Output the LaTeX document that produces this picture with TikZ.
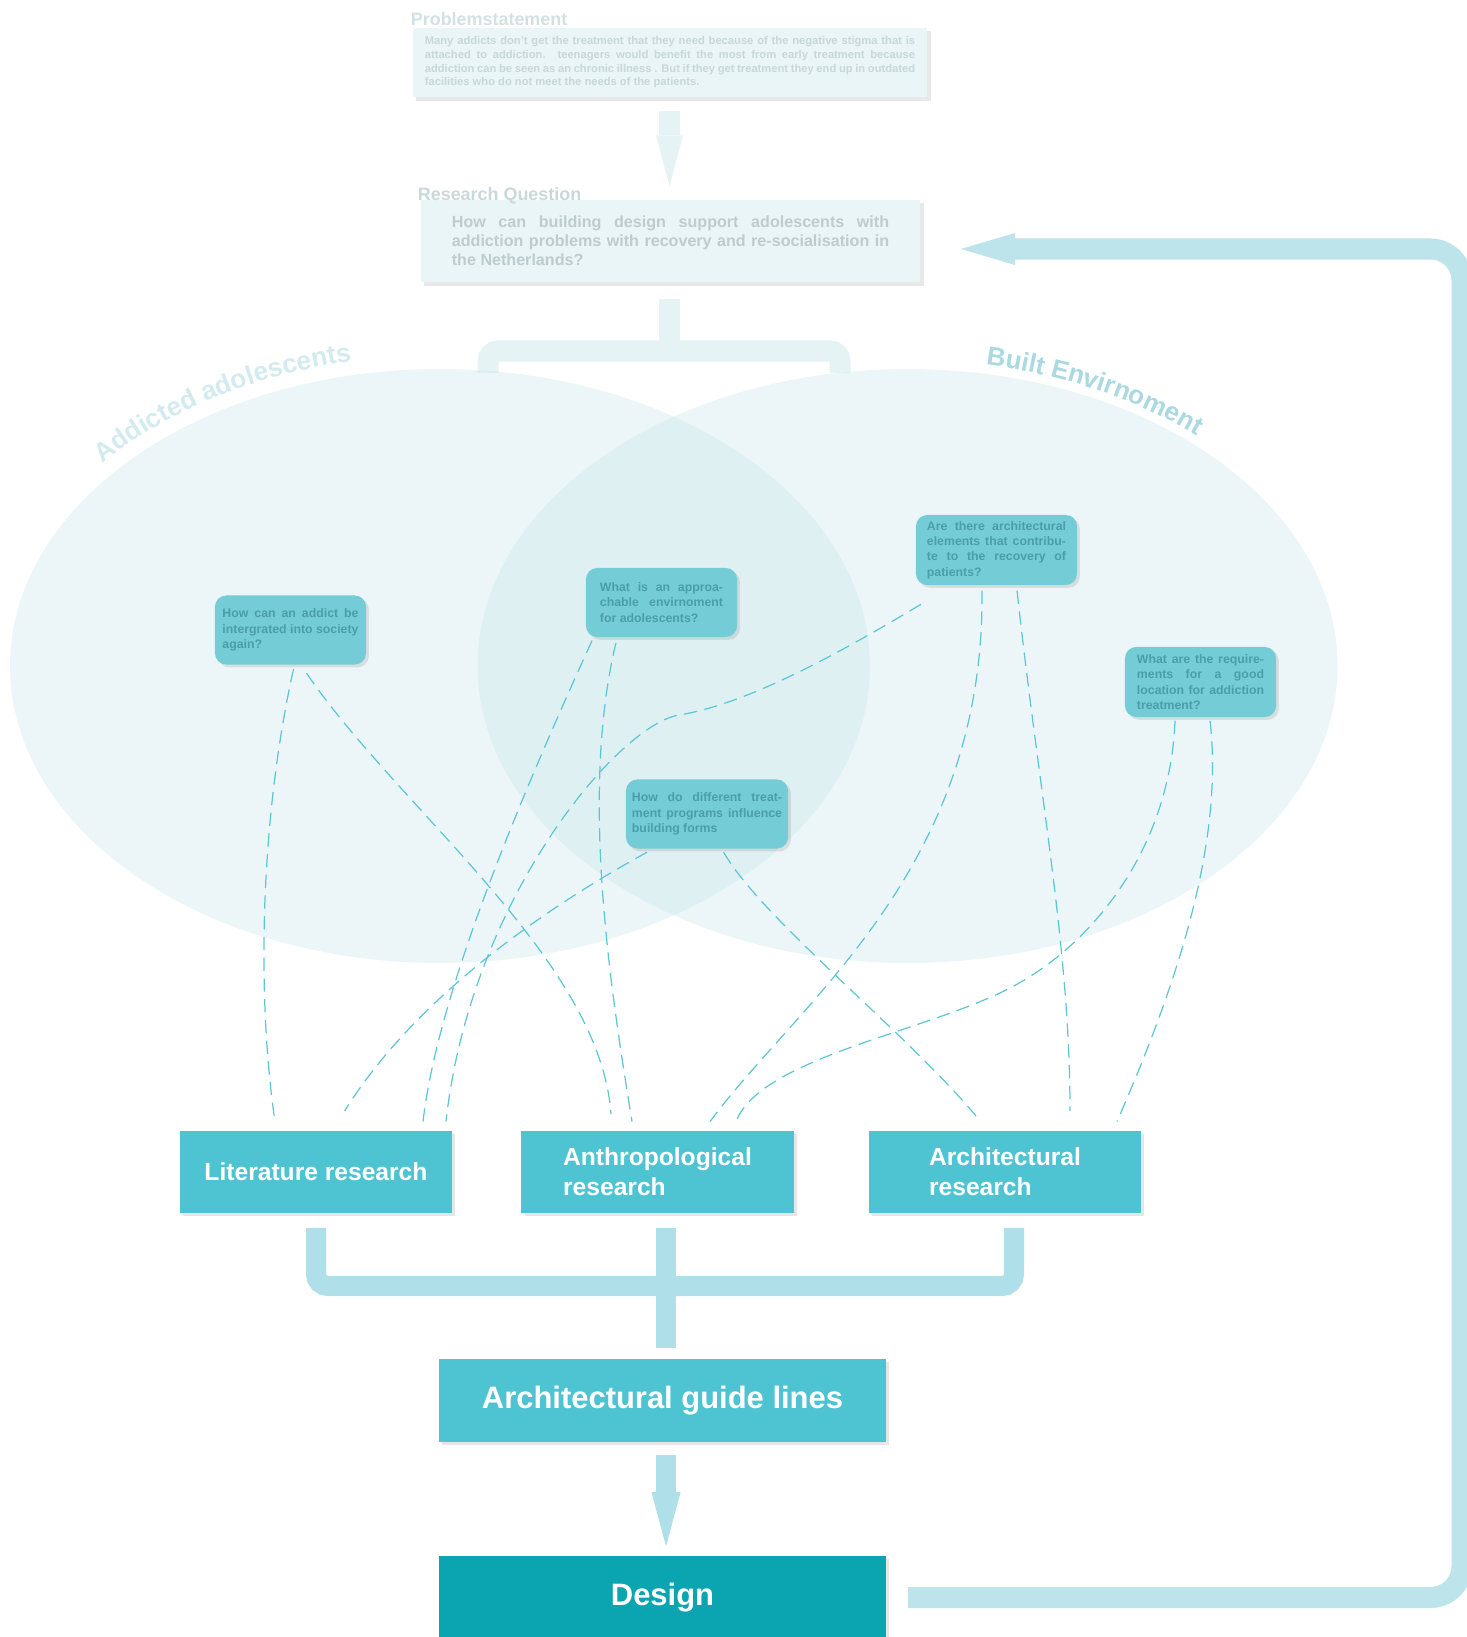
\documentclass[tikz,border=0pt]{standalone}
\usepackage{fontspec}
\setmainfont{Liberation Sans}
\usetikzlibrary{calc,shadows,arrows.meta,decorations.text}
\tolerance=10000

\definecolor{boxpale}{HTML}{E9F5F6}
\definecolor{textpale}{HTML}{C8D7DA}
\definecolor{titlepale}{HTML}{D2E1E4}
\definecolor{bubblecol}{HTML}{C4E3E9}
\definecolor{qfill}{HTML}{74CCD6}
\definecolor{qink}{HTML}{4B9EA9}
\definecolor{resfill}{HTML}{4EC4D2}
\definecolor{designfill}{HTML}{0BA5B1}
\definecolor{pipecol}{HTML}{AFDFE8}
\definecolor{loopcol}{HTML}{BEE4EB}
\definecolor{topcol}{HTML}{E5F3F5}
\definecolor{dashcol}{HTML}{5CC7D3}
\definecolor{leftlbl}{HTML}{D3EBEF}
\definecolor{rightlbl}{HTML}{ABD9E1}

\def\fsz#1#2{\fontsize{#1}{#2}\selectfont\bfseries}

\tikzset{
  paperbox/.style={fill=boxpale, inner ysep=0pt, align=justify,
    drop shadow={shadow xshift=1pt, shadow yshift=-1pt, opacity=.18}},
  boxtitle/.style={anchor=base west, inner sep=0pt, text=titlepale, font=\fsz{5.1pt}{6pt}},
  qbox/.style={rounded corners=3.2pt, fill=qfill, text=qink, align=justify,
    text width=#1, minimum width=1.51cm, minimum height=0.69cm, inner sep=0pt,
    font=\fsz{3.5pt}{4.35pt},
    drop shadow={shadow xshift=0.8pt, shadow yshift=-0.8pt, opacity=.2}},
  resbox/.style={fill=resfill, text=white, minimum width=2.72cm, minimum height=0.825cm,
    align=left, font=\fsz{7pt}{8.5pt},
    drop shadow={shadow xshift=0.9pt, shadow yshift=-0.9pt, opacity=.2}},
  bigbox/.style={fill=#1, text=white, minimum width=4.47cm, minimum height=0.83cm,
    font=\fsz{8.8pt}{10pt},
    drop shadow={shadow xshift=0.9pt, shadow yshift=-0.9pt, opacity=.2}},
  bubble/.style={fill=bubblecol, fill opacity=0.32},
  toppipe/.style={topcol, line width=2.1mm},
  pipe/.style={pipecol, line width=2mm},
  looppipe/.style={loopcol, line width=2.1mm},
  dashlink/.style={dashcol, line width=0.35pt, dash pattern=on 3.8pt off 2.1pt}
}

\begin{document}
\begin{tikzpicture}[x=0.01cm, y=-0.01cm]
%%%%% START %%%%%
\useasboundingbox (0,0) rectangle (1466,1637);

\coordinate (lcen) at (440,666);
\coordinate (rcen) at (907.5,666);

% problem and question
\node[paperbox, text width=4.9cm, inner xsep=0.12cm, minimum height=0.69cm,
  font=\fsz{3.18pt}{3.87pt}, text=textpale] (prob) at (670,62.5)
  {Many addicts don't get the treatment that they need because of the negative stigma that is\linebreak
   attached to addiction. teenagers would benefit the most from early treatment because\linebreak
   addiction can be seen as an chronic illness . But if they get treatment they end up in outdated\linebreak
   facilities who do not meet the needs of the patients.};
\node[boxtitle] (probtitle) at ($(prob.north west)+(-2,-2)$) {Problemstatement};

\node[paperbox, text width=4.37cm, inner xsep=0.31cm, minimum height=0.82cm,
  font=\fsz{4.58pt}{5.45pt}, text=textpale!95!black] (rq) at (670.5,241)
  {How can building design support adolescents with\linebreak
   addiction problems with recovery and re-socialisation in\linebreak
   the Netherlands?};
\node[boxtitle, text=titlepale!96!black] (rqtitle) at ($(rq.north west)+(-3,1)$) {Research Question};

\draw[toppipe, -{Triangle[length=14.5pt, width=7.7pt, line width=0pt]}]
  ($(prob.south)+(-0.5,13)$) -- ($(rq.north)+(-1,-13)$);

\coordinate (split) at (669.5,351);
\draw[toppipe] ($(rq.south)+(-1,16)$) -- (split);
\draw[toppipe, rounded corners=2.85pt] (488,373) -- (488,351) -- (split) -- (840,351) -- (840,373);

% the two fields
\fill[bubble] (lcen) ellipse [x radius=430, y radius=297];
\fill[bubble] (rcen) ellipse [x radius=430, y radius=297];

\path[decorate, decoration={text along path, text align=center, text color=leftlbl,
  text={|\fsz{7.5pt}{9pt}|Addicted adolescents}}]
  ($(lcen)+(-146:444 and 311)$) arc [start angle=-146, end angle=-96, x radius=444, y radius=311];
\path[decorate, decoration={text along path, text align=center, text color=rightlbl,
  text={|\fsz{7.4pt}{9pt}|Built Envirnoment}}]
  ($(rcen)+(-93:439 and 306)$) arc [start angle=-93, end angle=-33, x radius=439, y radius=306];

% sub questions
\node[qbox=1.36cm] (q1) at (290.5,630)
  {How can an addict be\linebreak intergrated into society\linebreak again?};
\node[qbox=1.23cm] (q2) at (661.5,602.5)
  {What is an approa-\linebreak chable envirnoment\linebreak for adolescents?};
\node[qbox=1.39cm, minimum width=1.61cm, minimum height=0.7cm] (q3) at (996.5,550)
  {Are there architectural\linebreak elements that contribu-\linebreak te to the recovery of\linebreak patients?};
\node[qbox=1.27cm, minimum height=0.7cm] (q4) at (1200.5,682)
  {What are the require-\linebreak ments for a good\linebreak location for addiction\linebreak treatment?};
\node[qbox=1.5cm, minimum width=1.62cm] (q5) at (707,814)
  {How do different treat-\linebreak ment programs influence\linebreak building forms};

% research methods
\node[resbox] (lit) at (316,1172) {Literature research};
\node[resbox] (anth) at (657.5,1172) {Anthropological\\research};
\node[resbox] (arch) at (1005,1172) {Architectural\\research};

% links
\draw[dashlink] ($(q1.south)+(3,4)$) .. controls (261,814) and (256,992) .. ($(lit.north)+(-41,-8.5)$);
\draw[dashlink] ($(q1.south)+(16,8)$) .. controls (400,810) and (600,960) .. ($(anth.north)+(-46.5,-16)$);
\draw[dashlink] ($(q2.south)+(-69.5,3)$) .. controls (522,794) and (438,992) .. ($(lit.north)+(107,-8.5)$);
\draw[dashlink] ($(q2.south)+(-45.5,5)$) .. controls (579.5,794) and (611,992) .. ($(anth.north)+(-25.5,-8.5)$);
\draw[dashlink] ($(q3.south)+(-75.5,18.5)$) .. controls (820,665) and (740,705) .. (679,715)
  .. controls (618,725) and (470,900) .. ($(lit.north)+(130,-8.5)$);
\draw[dashlink] ($(q3.south)+(-14.5,5)$) .. controls (985,870) and (800,1000) .. ($(anth.north)+(52.5,-8.5)$);
\draw[dashlink] ($(q3.south)+(20.5,5)$) .. controls (1040,800) and (1070,950) .. ($(arch.north)+(65,-19)$);
\draw[dashlink] ($(q4.south)+(-25.5,3)$) .. controls (1170,850) and (1090,950) .. (1002,992)
  .. controls (914,1034) and (760,1060) .. ($(anth.north)+(78.5,-8.5)$);
\draw[dashlink] ($(q4.south)+(9.5,3)$) .. controls (1225,850) and (1170,1000) .. ($(arch.north)+(112,-8.5)$);
\draw[dashlink] ($(q5.south)+(-60,3)$) .. controls (560,900) and (420,990) .. ($(lit.north)+(28.6,-19)$);
\draw[dashlink] ($(q5.south)+(16.6,3)$) .. controls (762,919) and (908,1034) .. ($(arch.north)+(-29,-14)$);

% result
\node[bigbox=resfill] (guide) at (662.5,1400.5) {Architectural guide lines};
\node[bigbox=designfill] (design) at (662.5,1597.5) {Design};

\coordinate (merge) at (666,1286);
\draw[pipe, rounded corners=3.4pt] ($(lit.south)+(0,14)$) |- (merge) -| ($(arch.south)+(9,14)$);
\draw[pipe] ($(anth.south)+(8.5,14)$) -- ($(guide.north)+(3.5,-10)$);
\draw[pipe, -{Triangle[length=15.4pt, width=8.3pt, line width=0pt]}]
  ($(guide.south)+(3.5,12)$) -- ($(design.north)+(3.5,-9)$);

\draw[looppipe, rounded corners=9pt, -{Triangle[length=15.4pt, width=9.1pt, line width=0pt]}]
  ($(design.east)+(21,0)$) -- (1462,1597.5) -- (1462,249) -- ($(rq.east)+(40,8)$);

%%%%% END %%%%%
\end{tikzpicture}
\end{document}
